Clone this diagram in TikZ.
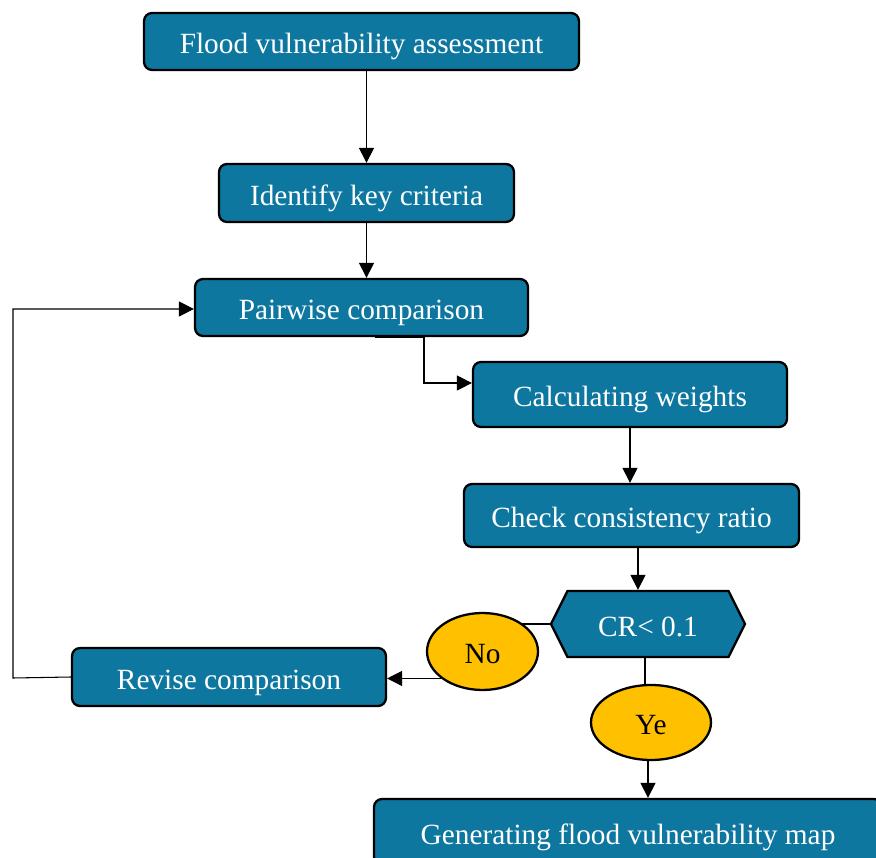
\documentclass[tikz,border=0pt]{standalone}
\usepackage{fontspec}
\setmainfont{Liberation Serif}
\usetikzlibrary{arrows.meta,shapes.geometric,shapes.symbols}
\definecolor{boxblue}{RGB}{14,119,160}
\definecolor{amber}{RGB}{255,192,0}

\begin{document}
\begin{tikzpicture}[x=0.02cm, y=-0.02cm,
every node/.style = {text height=13.9pt, text depth=0pt, font=\fontsize{16.7}{20}\selectfont},
box/.style = {draw=black, line width=1.3pt, rounded corners=0.16cm, fill=boxblue,
    text=white, inner sep=0pt},
hexa/.style = {signal, signal to=west and east, signal pointer angle=127, draw=black,
    line width=1.3pt, fill=boxblue, text=white, inner sep=0pt},
choice/.style = {ellipse, draw=black, line width=1.3pt, fill=amber, inner sep=0pt},
link/.style = {line width=0.6pt, -{Triangle[length=0.3cm, width=0.3cm]}},
plain/.style = {line width=0.6pt}]
\useasboundingbox (0,0) rectangle (876,858);
% steps of the chart
\node[box, minimum width=8.7cm, minimum height=1.14cm] (fva) at (361.5,41.5) {Flood vulnerability assessment};
\node[box, minimum width=5.9cm, minimum height=1.16cm] (ikc) at (366.5,193) {Identify key criteria};
\node[box, minimum width=6.66cm, minimum height=1.14cm] (pwc) at (361.5,307.5) {Pairwise comparison};
\node[box, minimum width=6.28cm, minimum height=1.3cm] (cw) at (630,394.5) {Calculating weights};
\node[box, minimum width=6.7cm, minimum height=1.26cm] (ccr) at (631.5,515.5) {Check consistency ratio};
\node[hexa, minimum width=3.88cm, minimum height=1.32cm] (cr) at (648,624) {CR< 0.1};
\node[choice, minimum width=2.22cm, minimum height=1.54cm] (no) at (482.5,651.5) {No};
\node[box, minimum width=6.28cm, minimum height=1.16cm] (rc) at (229,677) {Revise comparison};
\node[choice, minimum width=2.4cm, minimum height=1.5cm] (ye) at (651,722.5) {Ye};
\node[box, minimum width=10.16cm, minimum height=1.32cm] (gfv) at (628,832) {Generating flood vulnerability map};
% helper points
\coordinate (pwout) at ([xshift=0.27cm]pwc.south);
\coordinate (pwbend) at ([xshift=1.25cm]pwc.south);
\coordinate (ccrout) at ([xshift=0.13cm]ccr.south);
\coordinate (crout) at ([xshift=-0.06cm]cr.south);
\coordinate (yeout) at ([xshift=-0.06cm]ye.south);
\coordinate (loopb) at (13,678);
\coordinate (loopt) at (13,309);
% connectors
\draw[link] (fva.south -| ikc.north) -- (ikc.north);
\draw[link] (ikc.south) -- (ikc.south |- pwc.north);
\draw[link] (pwout) -- (pwbend) |- ([yshift=0.23cm]cw.west);
\draw[link] (cw.south) -- (cw.south |- ccr.north);
\draw[link] (ccrout) -- (ccrout |- cr.north);
\draw[plain] (cr.west) -- (cr.west -| no.37);
\draw[link] (no.213) -- (no.213 -| rc.east);
\draw[plain] (crout) -- (crout |- ye.north);
\draw[link] (yeout) -- (yeout |- gfv.north);
\draw[link] (rc.west) -- (loopb) -- (loopt) -- (loopt -| pwc.west);
\end{tikzpicture}
\end{document}
